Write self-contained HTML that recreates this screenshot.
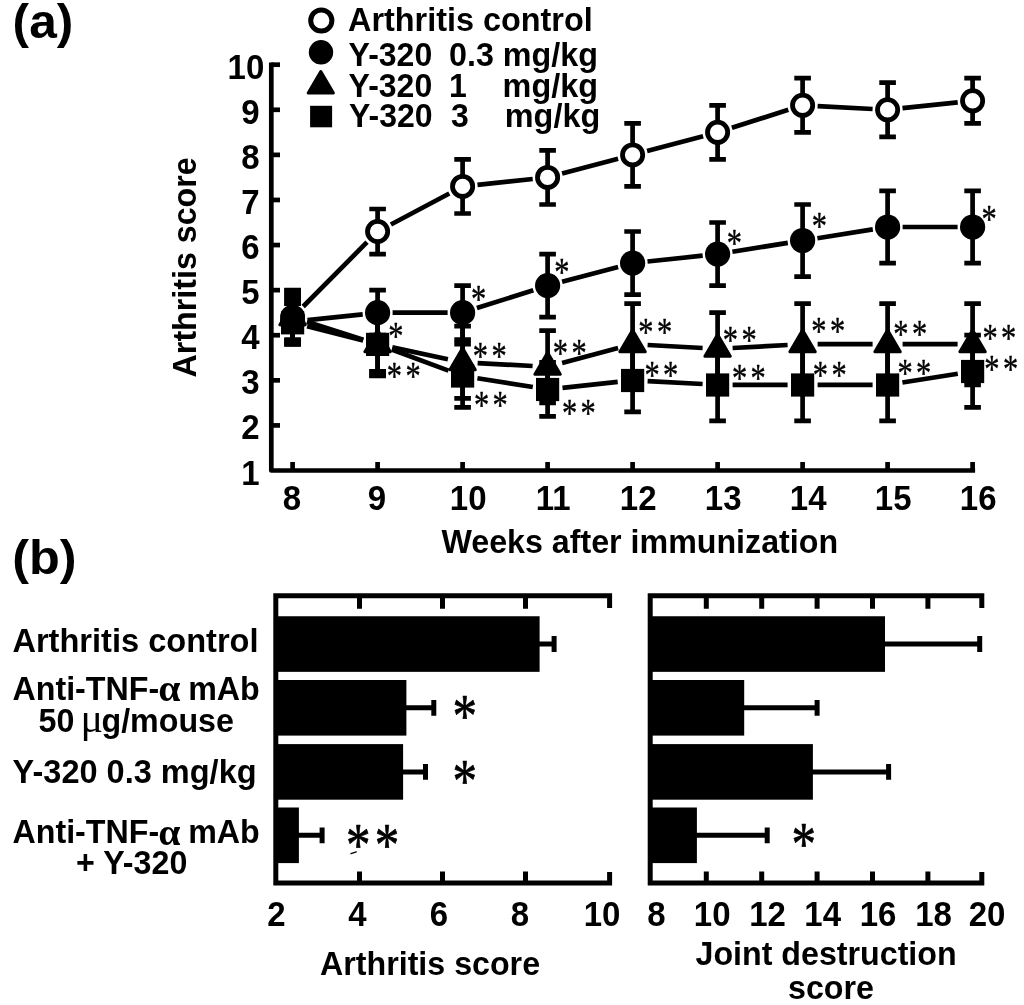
<!DOCTYPE html>
<html><head><meta charset="utf-8"><title>Figure</title>
<style>html,body{margin:0;padding:0;background:#fff}svg{display:block}text{font-family:"Liberation Sans",sans-serif;font-weight:bold;fill:#000}.st{font-family:"Liberation Serif",serif;font-weight:normal}.sym{font-family:"Liberation Serif",serif;font-weight:bold}</style></head><body>
<svg width="1024" height="1005" viewBox="0 0 1024 1005">
<rect width="1024" height="1005" fill="#fff"/>
<text transform="translate(12.6 37.5) scale(1.035 1.0)" font-size="48">(a)</text>
<text transform="translate(12.2 574) scale(1.05 1.0)" font-size="48">(b)</text>
<g stroke="#000" stroke-width="4.7" fill="none">
<path d="M271.3 62.4V470.5H975.1" stroke-linejoin="round"/>
<path d="M271.3 425.41H280"/>
<path d="M271.3 380.32H280"/>
<path d="M271.3 335.23H280"/>
<path d="M271.3 290.14H280"/>
<path d="M271.3 245.05H280"/>
<path d="M271.3 199.96H280"/>
<path d="M271.3 154.87H280"/>
<path d="M271.3 109.78H280"/>
<path d="M271.3 64.69H280"/>
<path d="M292.60 470.5V462"/>
<path d="M377.60 470.5V462"/>
<path d="M462.60 470.5V462"/>
<path d="M547.60 470.5V462"/>
<path d="M632.60 470.5V462"/>
<path d="M717.60 470.5V462"/>
<path d="M802.60 470.5V462"/>
<path d="M887.60 470.5V462"/>
<path d="M972.60 470.5V462"/>
</g>
<text transform="translate(259.7 484.5) scale(1 1.04)" font-size="33" text-anchor="end">1</text>
<text transform="translate(259.7 439.4) scale(1 1.04)" font-size="33" text-anchor="end">2</text>
<text transform="translate(259.7 394.3) scale(1 1.04)" font-size="33" text-anchor="end">3</text>
<text transform="translate(259.7 349.2) scale(1 1.04)" font-size="33" text-anchor="end">4</text>
<text transform="translate(259.7 304.1) scale(1 1.04)" font-size="33" text-anchor="end">5</text>
<text transform="translate(259.7 259.0) scale(1 1.04)" font-size="33" text-anchor="end">6</text>
<text transform="translate(259.7 214.0) scale(1 1.04)" font-size="33" text-anchor="end">7</text>
<text transform="translate(259.7 168.9) scale(1 1.04)" font-size="33" text-anchor="end">8</text>
<text transform="translate(259.7 123.8) scale(1 1.04)" font-size="33" text-anchor="end">9</text>
<text transform="translate(264.3 78.7) scale(1 1.04)" font-size="33" text-anchor="end">10</text>
<text transform="translate(291.8 510) scale(1 1.04)" font-size="33" text-anchor="middle">8</text>
<text transform="translate(376.8 510) scale(1 1.04)" font-size="33" text-anchor="middle">9</text>
<text transform="translate(468.2 510) scale(1 1.04)" font-size="33" text-anchor="middle">10</text>
<text transform="translate(553.2 510) scale(1 1.04)" font-size="33" text-anchor="middle">11</text>
<text transform="translate(638.2 510) scale(1 1.04)" font-size="33" text-anchor="middle">12</text>
<text transform="translate(723.2 510) scale(1 1.04)" font-size="33" text-anchor="middle">13</text>
<text transform="translate(808.2 510) scale(1 1.04)" font-size="33" text-anchor="middle">14</text>
<text transform="translate(893.2 510) scale(1 1.04)" font-size="33" text-anchor="middle">15</text>
<text transform="translate(978.2 510) scale(1 1.04)" font-size="33" text-anchor="middle">16</text>
<text transform="translate(441.5 552.5) scale(1 1.04)" font-size="32.2">Weeks after immunization</text>
<text transform="translate(196.4 377.4) rotate(-90) scale(1 1.04)" font-size="32.2">Arthritis score</text>
<circle cx="321.3" cy="20.5" r="10.6" fill="#fff" stroke="#000" stroke-width="5"/>
<circle cx="321" cy="52.3" r="12.2" fill="#000"/>
<path d="M320.8 71.5L333.4 93H308.2Z" fill="#000" stroke="#000" stroke-width="3" stroke-linejoin="round"/>
<rect x="310.1" y="105.8" width="22" height="21.5" fill="#000"/>
<text transform="translate(348 31.3) scale(1 1.04)" font-size="32.4">Arthritis control</text>
<text transform="translate(348.6 65.6) scale(1 1.04)" font-size="32">Y-320</text><text transform="translate(449 65.6) scale(1 1.04)" font-size="32.3">0.3 mg/kg</text>
<text transform="translate(348.6 97.0) scale(1 1.04)" font-size="32">Y-320</text><text transform="translate(449 97.0) scale(1 1.04)" font-size="32">1</text><text transform="translate(502.6 97.0) scale(1 1.04)" font-size="32.4">mg/kg</text>
<text transform="translate(349 127.3) scale(1 1.04)" font-size="32">Y-320</text><text transform="translate(451 127.3) scale(1 1.04)" font-size="32">3</text><text transform="translate(504.8 127.3) scale(1 1.04)" font-size="32.4">mg/kg</text>
<g stroke="#000" stroke-width="4.7" fill="none">
<path d="M303.2 306.5L367.0 242.2M390.9 224.5L449.3 193.5M477.5 184.9L532.7 179.0M562.1 173.6L618.1 158.7M647.1 151.0L703.1 136.2M731.9 127.8L788.3 109.8M817.6 106.1L872.6 109.0M902.5 108.2L957.7 102.3"/>
<path d="M307.5 320.1L362.7 314.3M392.6 312.7L447.6 312.7M476.9 308.1L533.3 290.2M562.1 281.8L618.1 266.9M647.5 261.5L702.7 255.7M732.4 251.7L787.8 242.9M817.4 238.2L872.8 229.4M902.6 227.0L957.6 227.0"/>
<path d="M306.9 321.7L363.3 339.7M392.3 347.4L447.9 359.2M477.6 363.1L532.6 366.0M562.1 362.9L618.1 348.1M647.6 345.0L702.6 348.0M732.6 348.0L787.6 345.0M817.6 344.2L872.6 344.2M902.6 344.2L957.6 344.2"/>
<path d="M307.1 326.3L363.1 340.5M391.7 349.5L448.5 370.6M477.4 378.2L532.8 387.0M562.5 387.8L617.7 381.9M647.6 381.1L702.6 384.0M732.6 384.8L787.6 384.8M817.6 384.8L872.6 384.8M902.4 382.5L957.8 373.7"/>
<path d="M292.6 290.1V344.2M284.3 290.1h16.6M284.3 344.2h16.6M377.6 209.0V254.1M369.3 209.0h16.6M369.3 254.1h16.6M462.6 159.4V213.5M454.3 159.4h16.6M454.3 213.5h16.6M547.6 150.4V204.5M539.3 150.4h16.6M539.3 204.5h16.6M632.6 123.3V186.4M624.3 123.3h16.6M624.3 186.4h16.6M717.6 105.3V159.4M709.3 105.3h16.6M709.3 159.4h16.6M802.6 78.2V132.3M794.3 78.2h16.6M794.3 132.3h16.6M887.6 82.7V136.8M879.3 82.7h16.6M879.3 136.8h16.6M972.6 78.2V123.3M964.3 78.2h16.6M964.3 123.3h16.6"/>
<path d="M292.6 299.2V344.2M284.3 299.2h16.6M284.3 344.2h16.6M377.6 290.1V335.2M369.3 290.1h16.6M369.3 335.2h16.6M462.6 285.6V339.7M454.3 285.6h16.6M454.3 339.7h16.6M547.6 254.1V317.2M539.3 254.1h16.6M539.3 317.2h16.6M632.6 231.5V294.6M624.3 231.5h16.6M624.3 294.6h16.6M717.6 222.5V285.6M709.3 222.5h16.6M709.3 285.6h16.6M802.6 204.5V276.6M794.3 204.5h16.6M794.3 276.6h16.6M887.6 190.9V263.1M879.3 190.9h16.6M879.3 263.1h16.6M972.6 190.9V263.1M964.3 190.9h16.6M964.3 263.1h16.6"/>
<path d="M292.6 294.6V339.7M284.3 294.6h16.6M284.3 339.7h16.6M377.6 317.2V371.3M369.3 317.2h16.6M369.3 371.3h16.6M462.6 326.2V398.4M454.3 326.2h16.6M454.3 398.4h16.6M547.6 330.7V402.9M539.3 330.7h16.6M539.3 402.9h16.6M632.6 303.7V384.8M624.3 303.7h16.6M624.3 384.8h16.6M717.6 312.7V384.8M709.3 312.7h16.6M709.3 384.8h16.6M802.6 303.7V384.8M794.3 303.7h16.6M794.3 384.8h16.6M887.6 303.7V384.8M879.3 303.7h16.6M879.3 384.8h16.6M972.6 303.7V384.8M964.3 303.7h16.6M964.3 384.8h16.6"/>
<path d="M292.6 303.7V341.5M284.3 303.7h16.6M284.3 341.5h16.6M377.6 312.7V375.8M369.3 312.7h16.6M369.3 375.8h16.6M462.6 344.2V407.4M454.3 344.2h16.6M454.3 407.4h16.6M547.6 362.3V416.4M539.3 362.3h16.6M539.3 416.4h16.6M632.6 348.8V411.9M624.3 348.8h16.6M624.3 411.9h16.6M717.6 348.8V420.9M709.3 348.8h16.6M709.3 420.9h16.6M802.6 348.8V420.9M794.3 348.8h16.6M794.3 420.9h16.6M887.6 348.8V420.9M879.3 348.8h16.6M879.3 420.9h16.6M972.6 335.2V407.4M964.3 335.2h16.6M964.3 407.4h16.6"/>
</g>
<rect x="284.3" y="288" width="16.6" height="18" fill="#000"/><rect x="284.3" y="338" width="16.6" height="8.5" fill="#000"/><rect x="369.3" y="369" width="16.6" height="9" fill="#000"/>
<circle cx="292.6" cy="317.2" r="10.1" fill="#000" stroke="#000" stroke-width="4.8"/>
<circle cx="292.6" cy="321.7" r="12.6" fill="#000"/>
<circle cx="377.6" cy="312.7" r="12.6" fill="#000"/>
<circle cx="462.6" cy="312.7" r="12.6" fill="#000"/>
<circle cx="547.6" cy="285.6" r="12.6" fill="#000"/>
<circle cx="632.6" cy="263.1" r="12.6" fill="#000"/>
<circle cx="717.6" cy="254.1" r="12.6" fill="#000"/>
<circle cx="802.6" cy="240.5" r="12.6" fill="#000"/>
<circle cx="887.6" cy="227.0" r="12.6" fill="#000"/>
<circle cx="972.6" cy="227.0" r="12.6" fill="#000"/>
<path d="M292.6 303.0L305.3 324.7H279.9Z" fill="#000" stroke="#000" stroke-width="3" stroke-linejoin="round"/>
<path d="M377.6 330.0L390.3 351.7H364.9Z" fill="#000" stroke="#000" stroke-width="3" stroke-linejoin="round"/>
<path d="M462.6 348.1L475.3 369.8H449.9Z" fill="#000" stroke="#000" stroke-width="3" stroke-linejoin="round"/>
<path d="M547.6 352.6L560.3 374.3H534.9Z" fill="#000" stroke="#000" stroke-width="3" stroke-linejoin="round"/>
<path d="M632.6 330.0L645.3 351.7H619.9Z" fill="#000" stroke="#000" stroke-width="3" stroke-linejoin="round"/>
<path d="M717.6 334.6L730.3 356.3H704.9Z" fill="#000" stroke="#000" stroke-width="3" stroke-linejoin="round"/>
<path d="M802.6 330.0L815.3 351.7H789.9Z" fill="#000" stroke="#000" stroke-width="3" stroke-linejoin="round"/>
<path d="M887.6 330.0L900.3 351.7H874.9Z" fill="#000" stroke="#000" stroke-width="3" stroke-linejoin="round"/>
<path d="M972.6 330.0L985.3 351.7H959.9Z" fill="#000" stroke="#000" stroke-width="3" stroke-linejoin="round"/>
<rect x="281.0" y="311.2" width="23.2" height="23.2" fill="#000"/>
<rect x="366.0" y="332.8" width="23.2" height="23.2" fill="#000"/>
<rect x="451.0" y="364.4" width="23.2" height="23.2" fill="#000"/>
<rect x="536.0" y="377.9" width="23.2" height="23.2" fill="#000"/>
<rect x="621.0" y="368.9" width="23.2" height="23.2" fill="#000"/>
<rect x="706.0" y="373.4" width="23.2" height="23.2" fill="#000"/>
<rect x="791.0" y="373.4" width="23.2" height="23.2" fill="#000"/>
<rect x="876.0" y="373.4" width="23.2" height="23.2" fill="#000"/>
<rect x="961.0" y="359.9" width="23.2" height="23.2" fill="#000"/>
<circle cx="377.6" cy="231.5" r="10.1" fill="#fff" stroke="#000" stroke-width="4.8"/>
<circle cx="462.6" cy="186.4" r="10.1" fill="#fff" stroke="#000" stroke-width="4.8"/>
<circle cx="547.6" cy="177.4" r="10.1" fill="#fff" stroke="#000" stroke-width="4.8"/>
<circle cx="632.6" cy="154.9" r="10.1" fill="#fff" stroke="#000" stroke-width="4.8"/>
<circle cx="717.6" cy="132.3" r="10.1" fill="#fff" stroke="#000" stroke-width="4.8"/>
<circle cx="802.6" cy="105.3" r="10.1" fill="#fff" stroke="#000" stroke-width="4.8"/>
<circle cx="887.6" cy="109.8" r="10.1" fill="#fff" stroke="#000" stroke-width="4.8"/>
<circle cx="972.6" cy="100.8" r="10.1" fill="#fff" stroke="#000" stroke-width="4.8"/>
<text class="st" transform="translate(388.2 349.4) scale(0.8 1.05)" font-size="38" stroke="#000" stroke-width="0.4" stroke-linejoin="round">*</text>
<text class="st" transform="translate(470.9 312.1) scale(0.8 1.05)" font-size="38" stroke="#000" stroke-width="0.4" stroke-linejoin="round">*</text>
<text class="st" transform="translate(554.2 285.4) scale(0.8 1.05)" font-size="38" stroke="#000" stroke-width="0.4" stroke-linejoin="round">*</text>
<text class="st" transform="translate(726.7 255.9) scale(0.8 1.05)" font-size="38" stroke="#000" stroke-width="0.4" stroke-linejoin="round">*</text>
<text class="st" transform="translate(811.7 239.4) scale(0.8 1.05)" font-size="38" stroke="#000" stroke-width="0.4" stroke-linejoin="round">*</text>
<text class="st" transform="translate(981.4 232.1) scale(0.8 1.05)" font-size="38" stroke="#000" stroke-width="0.4" stroke-linejoin="round">*</text>
<text class="st" transform="translate(386.8 388.7) scale(0.8 1.05)" font-size="38" stroke="#000" stroke-width="0.4" stroke-linejoin="round">*</text>
<text class="st" transform="translate(405.5 388.7) scale(0.8 1.05)" font-size="38" stroke="#000" stroke-width="0.4" stroke-linejoin="round">*</text>
<text class="st" transform="translate(472.7 369.4) scale(0.8 1.05)" font-size="38" stroke="#000" stroke-width="0.4" stroke-linejoin="round">*</text>
<text class="st" transform="translate(491.4 369.4) scale(0.8 1.05)" font-size="38" stroke="#000" stroke-width="0.4" stroke-linejoin="round">*</text>
<text class="st" transform="translate(473.9 418.4) scale(0.8 1.05)" font-size="38" stroke="#000" stroke-width="0.4" stroke-linejoin="round">*</text>
<text class="st" transform="translate(492.6 418.4) scale(0.8 1.05)" font-size="38" stroke="#000" stroke-width="0.4" stroke-linejoin="round">*</text>
<text class="st" transform="translate(552.7 366.4) scale(0.8 1.05)" font-size="38" stroke="#000" stroke-width="0.4" stroke-linejoin="round">*</text>
<text class="st" transform="translate(571.4 366.4) scale(0.8 1.05)" font-size="38" stroke="#000" stroke-width="0.4" stroke-linejoin="round">*</text>
<text class="st" transform="translate(561.9 425.9) scale(0.8 1.05)" font-size="38" stroke="#000" stroke-width="0.4" stroke-linejoin="round">*</text>
<text class="st" transform="translate(580.6 425.9) scale(0.8 1.05)" font-size="38" stroke="#000" stroke-width="0.4" stroke-linejoin="round">*</text>
<text class="st" transform="translate(638.2 345.4) scale(0.8 1.05)" font-size="38" stroke="#000" stroke-width="0.4" stroke-linejoin="round">*</text>
<text class="st" transform="translate(656.9 345.4) scale(0.8 1.05)" font-size="38" stroke="#000" stroke-width="0.4" stroke-linejoin="round">*</text>
<text class="st" transform="translate(644.4 387.6) scale(0.8 1.05)" font-size="38" stroke="#000" stroke-width="0.4" stroke-linejoin="round">*</text>
<text class="st" transform="translate(663.1 387.6) scale(0.8 1.05)" font-size="38" stroke="#000" stroke-width="0.4" stroke-linejoin="round">*</text>
<text class="st" transform="translate(722.7 353.4) scale(0.8 1.05)" font-size="38" stroke="#000" stroke-width="0.4" stroke-linejoin="round">*</text>
<text class="st" transform="translate(741.4 353.4) scale(0.8 1.05)" font-size="38" stroke="#000" stroke-width="0.4" stroke-linejoin="round">*</text>
<text class="st" transform="translate(731.9 390.9) scale(0.8 1.05)" font-size="38" stroke="#000" stroke-width="0.4" stroke-linejoin="round">*</text>
<text class="st" transform="translate(750.6 390.9) scale(0.8 1.05)" font-size="38" stroke="#000" stroke-width="0.4" stroke-linejoin="round">*</text>
<text class="st" transform="translate(811.2 343.9) scale(0.8 1.05)" font-size="38" stroke="#000" stroke-width="0.4" stroke-linejoin="round">*</text>
<text class="st" transform="translate(829.9 343.9) scale(0.8 1.05)" font-size="38" stroke="#000" stroke-width="0.4" stroke-linejoin="round">*</text>
<text class="st" transform="translate(812.7 388.4) scale(0.8 1.05)" font-size="38" stroke="#000" stroke-width="0.4" stroke-linejoin="round">*</text>
<text class="st" transform="translate(831.4 388.4) scale(0.8 1.05)" font-size="38" stroke="#000" stroke-width="0.4" stroke-linejoin="round">*</text>
<text class="st" transform="translate(893.2 347.1) scale(0.8 1.05)" font-size="38" stroke="#000" stroke-width="0.4" stroke-linejoin="round">*</text>
<text class="st" transform="translate(911.9 347.1) scale(0.8 1.05)" font-size="38" stroke="#000" stroke-width="0.4" stroke-linejoin="round">*</text>
<text class="st" transform="translate(897.4 385.9) scale(0.8 1.05)" font-size="38" stroke="#000" stroke-width="0.4" stroke-linejoin="round">*</text>
<text class="st" transform="translate(916.1 385.9) scale(0.8 1.05)" font-size="38" stroke="#000" stroke-width="0.4" stroke-linejoin="round">*</text>
<text class="st" transform="translate(982.4 351.4) scale(0.8 1.05)" font-size="38" stroke="#000" stroke-width="0.4" stroke-linejoin="round">*</text>
<text class="st" transform="translate(1001.1 351.4) scale(0.8 1.05)" font-size="38" stroke="#000" stroke-width="0.4" stroke-linejoin="round">*</text>
<text class="st" transform="translate(984.2 381.9) scale(0.8 1.05)" font-size="38" stroke="#000" stroke-width="0.4" stroke-linejoin="round">*</text>
<text class="st" transform="translate(1002.9 381.9) scale(0.8 1.05)" font-size="38" stroke="#000" stroke-width="0.4" stroke-linejoin="round">*</text>
<g stroke="#000" stroke-width="5" fill="none">
<path d="M609.6 608V595.8H275.8V883.1H609.6V872" stroke-linejoin="miter"/>
<path d="M359.5 595.8V608.8M359.5 883.1V871.5"/>
<path d="M442.5 595.8V608.8M442.5 883.1V871.5"/>
<path d="M525.5 595.8V608.8M525.5 883.1V871.5"/>
</g>
<rect x="275.8" y="616.25" width="263.8" height="55.6" fill="#000"/>
<path d="M538.6 644.0H554.1M554.1 636.1v15.8" stroke="#000" stroke-width="5" fill="none"/>
<rect x="275.8" y="680" width="130.6" height="55.6" fill="#000"/>
<path d="M405.4 707.8H433.8M433.8 699.9v15.8" stroke="#000" stroke-width="5" fill="none"/>
<rect x="275.8" y="744.1" width="127.3" height="55.6" fill="#000"/>
<path d="M402.1 771.9H425.5M425.5 764.0v15.8" stroke="#000" stroke-width="5" fill="none"/>
<rect x="275.8" y="807.5" width="23.1" height="55.6" fill="#000"/>
<path d="M297.9 835.3H322.1M322.1 827.4v15.8" stroke="#000" stroke-width="5" fill="none"/>
<g stroke="#000" stroke-width="5" fill="none">
<path d="M981.8 608V595.8H650.2V883.1H981.8V872" stroke-linejoin="miter"/>
<path d="M706.3 595.8V608.8M706.3 883.1V871.5"/>
<path d="M761.7 595.8V608.8M761.7 883.1V871.5"/>
<path d="M817.1 595.8V608.8M817.1 883.1V871.5"/>
<path d="M872.5 595.8V608.8M872.5 883.1V871.5"/>
<path d="M927.9 595.8V608.8M927.9 883.1V871.5"/>
</g>
<rect x="650.2" y="616.25" width="234.8" height="55.6" fill="#000"/>
<path d="M884.0 644.0H979.7M979.7 636.1v15.8" stroke="#000" stroke-width="5" fill="none"/>
<rect x="650.2" y="680" width="94.0" height="55.6" fill="#000"/>
<path d="M743.2 707.8H817.1M817.1 699.9v15.8" stroke="#000" stroke-width="5" fill="none"/>
<rect x="650.2" y="744.1" width="162.7" height="55.6" fill="#000"/>
<path d="M811.9 771.9H888.6M888.6 764.0v15.8" stroke="#000" stroke-width="5" fill="none"/>
<rect x="650.2" y="807.5" width="46.7" height="55.6" fill="#000"/>
<path d="M695.9 835.3H767.2M767.2 827.4v15.8" stroke="#000" stroke-width="5" fill="none"/>
<text class="st" transform="translate(452.6 736.4) scale(0.83 1.05)" font-size="59" stroke="#000" stroke-width="0.7" stroke-linejoin="round">*</text>
<text class="st" transform="translate(452.6 801.1) scale(0.83 1.05)" font-size="59" stroke="#000" stroke-width="0.7" stroke-linejoin="round">*</text>
<text class="st" transform="translate(346.0 865.3) scale(0.83 1.05)" font-size="59" stroke="#000" stroke-width="0.7" stroke-linejoin="round">*</text>
<text class="st" transform="translate(374.7 865.3) scale(0.83 1.05)" font-size="59" stroke="#000" stroke-width="0.7" stroke-linejoin="round">*</text>
<text class="st" transform="translate(791.6 864.4) scale(0.83 1.05)" font-size="59" stroke="#000" stroke-width="0.7" stroke-linejoin="round">*</text>
<path d="M351 853.7L356.3 851.8" stroke="#000" stroke-width="1.3" stroke-linecap="round"/>
<text transform="translate(276.4 925.5) scale(1 1.04)" font-size="33" text-anchor="middle">2</text>
<text transform="translate(357.3 925.5) scale(1 1.04)" font-size="33" text-anchor="middle">4</text>
<text transform="translate(438.8 925.5) scale(1 1.04)" font-size="33" text-anchor="middle">6</text>
<text transform="translate(520 925.5) scale(1 1.04)" font-size="33" text-anchor="middle">8</text>
<text transform="translate(602 925.5) scale(1 1.04)" font-size="33" text-anchor="middle">10</text>
<text transform="translate(656.3 925.5) scale(1 1.04)" font-size="33" text-anchor="middle">8</text>
<text transform="translate(712.2 925.5) scale(1 1.04)" font-size="33" text-anchor="middle">10</text>
<text transform="translate(767.5 925.5) scale(1 1.04)" font-size="33" text-anchor="middle">12</text>
<text transform="translate(822.7 925.5) scale(1 1.04)" font-size="33" text-anchor="middle">14</text>
<text transform="translate(878 925.5) scale(1 1.04)" font-size="33" text-anchor="middle">16</text>
<text transform="translate(933.5 925.5) scale(1 1.04)" font-size="33" text-anchor="middle">18</text>
<text transform="translate(987 925.5) scale(1 1.04)" font-size="33" text-anchor="middle">20</text>
<text transform="translate(320 975.2) scale(1 1.04)" font-size="32.2">Arthritis score</text>
<text transform="translate(695.5 964.8) scale(1 1.04)" font-size="32.2">Joint destruction</text>
<text transform="translate(788 998.5) scale(1 1.04)" font-size="32.2">score</text>
<text transform="translate(12.4 652.4) scale(1.012 1.04)" font-size="32.2">Arthritis control</text>
<text transform="translate(12.5 700) scale(1 1.04)" font-size="32.2">Anti-TNF-</text>
<text class="sym" transform="translate(158.2 701.3) scale(1.09 1.02)" font-size="36.5">α</text>
<text transform="translate(188.2 700) scale(1 1.04)" font-size="32.2">mAb</text>
<text transform="translate(38.5 732) scale(1 1.04)" font-size="32.2">50</text>
<text class="st" transform="translate(80.5 732) scale(1.08 1)" font-size="39">μ</text>
<text transform="translate(101.5 732) scale(1 1.04)" font-size="32.2">g/mouse</text>
<text transform="translate(12.6 782.7) scale(1.01 1.04)" font-size="32.2">Y-320 0.3 mg/kg</text>
<text transform="translate(12.5 843.3) scale(1 1.04)" font-size="32.2">Anti-TNF-</text>
<text class="sym" transform="translate(158.2 844.5999999999999) scale(1.09 1.02)" font-size="36.5">α</text>
<text transform="translate(188.2 843.3) scale(1 1.04)" font-size="32.2">mAb</text>
<text transform="translate(76 874.2) scale(1 1.04)" font-size="32.2">+ Y-320</text>
</svg></body></html>
